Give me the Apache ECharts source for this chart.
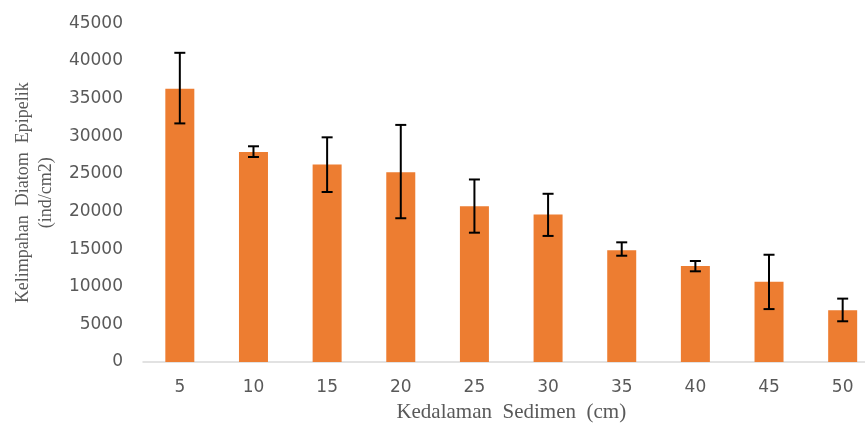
<!DOCTYPE html>
<html>
<head>
<meta charset="utf-8">
<script src="https://cdn.jsdelivr.net/npm/echarts@6/dist/echarts.min.js"></script>
<style>
html,body{margin:0;padding:0;background:#fff;}
#chart{width:865px;height:423px;}
</style>
</head>
<body>
<div id="chart"></div>
<script>
const categories = ['5', '10', '15', '20', '25', '30', '35', '40', '45', '50'];
const abundance = [36300, 27900, 26250, 25200, 20700, 19600, 14850, 12750, 10650, 6870];
const errPlus  = [4780, 760, 3600, 6300, 3550, 2750, 1050, 670, 3600, 1550];
const errMinus = [4600, 660, 3660, 6100, 3520, 2850, 730, 700, 3620, 1460];
const yTicks = { min: 0, max: 45000, interval: 5000 };

const errData = categories.map((c, i) => [i, abundance[i] - errMinus[i], abundance[i] + errPlus[i]]);

const chart = echarts.init(document.getElementById('chart'), null, { renderer: 'canvas' });
chart.setOption({
  animation: false,
  backgroundColor: '#ffffff',
  grid: { left: 143, right: -14.5, top: 23.3, bottom: 61, containLabel: false, outerBoundsMode: 'none' },
  xAxis: {
    type: 'category',
    data: categories,
    axisLine: { show: true, lineStyle: { color: '#d9d9d9', width: 1.5 } },
    axisTick: { show: false },
    axisLabel: { color: '#595959', fontFamily: 'DejaVu Sans', fontSize: 17, margin: 17 },
    name: 'Kedalaman  Sedimen  (cm)',
    nameLocation: 'middle',
    nameGap: 50,
    nameTextStyle: { fontFamily: 'Liberation Serif', fontSize: 21, color: '#595959', verticalAlign: 'middle' }
  },
  yAxis: {
    type: 'value',
    min: yTicks.min, max: yTicks.max, interval: yTicks.interval,
    axisLine: { show: false },
    axisTick: { show: false },
    splitLine: { show: false },
    axisLabel: { color: '#595959', fontFamily: 'DejaVu Sans', fontSize: 17, margin: 20, formatter: v => String(v) },
    name: 'Kelimpahan  Diatom  Epipelik\n(ind/cm2)',
    nameLocation: 'middle',
    nameRotate: 90,
    nameGap: 75,
    nameTextStyle: { fontFamily: 'Liberation Serif', fontSize: 18, color: '#595959', lineHeight: 23, align: 'center' }
  },
  series: [
    {
      type: 'bar',
      data: abundance,
      barWidth: 29,
      itemStyle: { color: '#ED7D31' }
    },
    {
      type: 'custom',
      data: errData,
      z: 10,
      renderItem: function (params, api) {
        const x = api.value(0);
        const lo = api.coord([x, api.value(1)]);
        const hi = api.coord([x, api.value(2)]);
        const half = 5.5;
        const style = { stroke: '#000000', lineWidth: 2 };
        return {
          type: 'group',
          children: [
            { type: 'line', shape: { x1: hi[0], y1: hi[1], x2: lo[0], y2: lo[1] }, style: style },
            { type: 'line', shape: { x1: hi[0] - half, y1: hi[1], x2: hi[0] + half, y2: hi[1] }, style: style },
            { type: 'line', shape: { x1: lo[0] - half, y1: lo[1], x2: lo[0] + half, y2: lo[1] }, style: style }
          ]
        };
      }
    }
  ]
});
</script>
</body>
</html>
